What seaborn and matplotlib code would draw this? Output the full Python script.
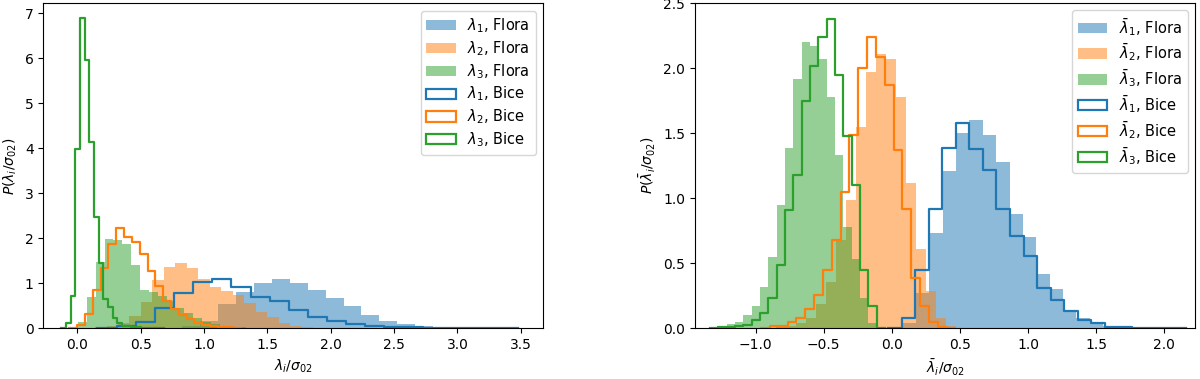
import numpy as np
import matplotlib
matplotlib.use("Agg")
import matplotlib.pyplot as plt
from matplotlib.patches import Patch
import seaborn as sns

# left panel: P(lambda_i / sigma_02), density per bin (first bin edge, bin width, heights)
flora_l1_start, flora_l1_width = 0.685, 0.1416
flora_l1 = [0.01, 0.05, 0.17, 0.53, 0.81, 1.00, 1.10, 1.00, 0.84, 0.67,
            0.50, 0.29, 0.16, 0.09, 0.05, 0.03, 0.02, 0.01, 0.005, 0.005]
flora_l2_start, flora_l2_width = 0.05, 0.0905
flora_l2 = [0.01, 0.03, 0.06, 0.12, 0.28, 0.59, 1.07, 1.37, 1.44, 1.33,
            1.09, 0.92, 0.83, 0.74, 0.56, 0.37, 0.24, 0.12, 0.06, 0.02]
flora_l3_start, flora_l3_width = 0.005, 0.07
flora_l3 = [0.15, 0.70, 1.47, 1.98, 1.97, 1.87, 1.40, 0.85, 0.80, 0.72,
            0.60, 0.46, 0.33, 0.22, 0.15, 0.09, 0.05, 0.03, 0.02, 0.01]
bice_l1_start, bice_l1_width = 0.31, 0.151
bice_l1 = [0.04, 0.15, 0.44, 0.79, 1.02, 1.10, 0.91, 0.69, 0.60, 0.40,
           0.24, 0.16, 0.09, 0.05, 0.035, 0.02, 0.015, 0.01, 0.01, 0.01]
bice_l2_start, bice_l2_width = 0.0, 0.0616
bice_l2 = [0.08, 0.31, 0.85, 1.35, 1.88, 2.23, 2.03, 1.91, 1.65, 1.28,
           0.93, 0.61, 0.43, 0.30, 0.20, 0.12, 0.08, 0.05, 0.03, 0.02]
bice_l3_start, bice_l3_width = -0.089, 0.0368
bice_l3 = [0.11, 0.72, 3.98, 6.89, 5.95, 4.13, 2.48, 1.44, 0.65, 0.48,
           0.22, 0.11, 0.06, 0.04, 0.03, 0.02, 0.01, 0.01, 0.01, 0.005]

# right panel: P(lambda_bar_i / sigma_02)
flora_b1_start, flora_b1_width = 0.08, 0.098
flora_b1 = [0.04, 0.27, 0.73, 1.21, 1.50, 1.60, 1.49, 1.28, 0.88, 0.70,
            0.42, 0.30, 0.14, 0.08, 0.04, 0.02, 0.01, 0.01, 0.005, 0.005]
flora_b2_start, flora_b2_width = -0.923, 0.0734
flora_b2 = [0.005, 0.01, 0.02, 0.04, 0.08, 0.19, 0.36, 0.68, 0.99, 1.55,
            1.97, 2.11, 2.07, 1.78, 1.12, 0.61, 0.29, 0.077, 0.02, 0.005]
flora_b3_start, flora_b3_width = -1.273, 0.0612
flora_b3 = [0.01, 0.03, 0.05, 0.10, 0.17, 0.32, 0.55, 0.95, 1.39, 1.92,
            2.20, 2.17, 2.07, 1.78, 1.33, 0.78, 0.53, 0.23, 0.04]
bice_b1_start, bice_b1_width = 0.073, 0.0993
bice_b1 = [0.077, 0.45, 0.92, 1.39, 1.58, 1.38, 1.22, 0.92, 0.71, 0.56,
           0.31, 0.22, 0.13, 0.064, 0.038, 0.013, 0.01, 0.005, 0.005, 0.005]
bice_b2_start, bice_b2_width = -0.894, 0.0648
bice_b2 = [0.02, 0.02, 0.05, 0.08, 0.15, 0.26, 0.45, 0.68, 1.05, 1.49,
           2.00, 2.24, 2.09, 1.87, 1.37, 0.92, 0.39, 0.17, 0.05, 0.013]
bice_b3_start, bice_b3_width = -1.273, 0.0612
bice_b3 = [0.01, 0.01, 0.015, 0.025, 0.064, 0.115, 0.23, 0.49, 0.91, 1.18,
           1.75, 2.02, 2.24, 2.38, 1.95, 1.48, 1.10, 0.45, 0.17]

colors = ["tab:blue", "tab:orange", "tab:green"]


def draw_hist(ax, start, width, heights, color, step=False):
    h = np.asarray(heights, dtype=float)
    edges = start + width * np.arange(len(h) + 1)
    if step:
        # empty bins on both sides so the outline drops to zero
        edges = np.concatenate([[edges[0] - width], edges, [edges[-1] + width]])
        h = np.concatenate([[0.0], h, [0.0]])
    centers = (edges[:-1] + edges[1:]) / 2
    if step:
        sns.histplot(x=centers, weights=h, bins=list(edges), element="step", fill=False,
                     color=color, linewidth=1.6, ax=ax)
    else:
        sns.histplot(x=centers, weights=h, bins=list(edges), element="bars", color=color,
                     alpha=0.5, linewidth=0, edgecolor="none", ax=ax)


fig = plt.figure(figsize=(12, 3.79), dpi=100)
ax1 = fig.add_axes([43.3 / 1200, 1 - 328.3 / 379, 499.7 / 1200, 325.0 / 379])
ax2 = fig.add_axes([695 / 1200, 1 - 328.3 / 379, 500 / 1200, 325.6 / 379])

for s, w, h, c in zip([flora_l1_start, flora_l2_start, flora_l3_start],
                      [flora_l1_width, flora_l2_width, flora_l3_width],
                      [flora_l1, flora_l2, flora_l3], colors):
    draw_hist(ax1, s, w, h, c)
for s, w, h, c in zip([bice_l1_start, bice_l2_start, bice_l3_start],
                      [bice_l1_width, bice_l2_width, bice_l3_width],
                      [bice_l1, bice_l2, bice_l3], colors):
    draw_hist(ax1, s, w, h, c, step=True)

for s, w, h, c in zip([flora_b1_start, flora_b2_start, flora_b3_start],
                      [flora_b1_width, flora_b2_width, flora_b3_width],
                      [flora_b1, flora_b2, flora_b3], colors):
    draw_hist(ax2, s, w, h, c)
for s, w, h, c in zip([bice_b1_start, bice_b2_start, bice_b3_start],
                      [bice_b1_width, bice_b2_width, bice_b3_width],
                      [bice_b1, bice_b2, bice_b3], colors):
    draw_hist(ax2, s, w, h, c, step=True)

ax1.set_xlim(-0.268, 3.675)
ax1.set_ylim(0, 7.22)
ax2.set_xlim(-1.444, 2.225)
ax2.set_ylim(0, 2.505)

ax1.set_xlabel(r"$\lambda_i/\sigma_{02}$")
ax1.set_ylabel(r"$P(\lambda_i/\sigma_{02})$")
ax2.set_xlabel(r"$\bar{\lambda}_i/\sigma_{02}$")
ax2.set_ylabel(r"$P(\bar{\lambda}_i/\sigma_{02})$")

for ax, sym in [(ax1, r"\lambda"), (ax2, r"\bar{\lambda}")]:
    handles = [Patch(facecolor=c, alpha=0.5, edgecolor="none") for c in colors]
    handles += [Patch(facecolor="none", edgecolor=c, linewidth=1.6) for c in colors]
    labels = [rf"${sym}_{i}$, Flora" for i in (1, 2, 3)]
    labels += [rf"${sym}_{i}$, Bice" for i in (1, 2, 3)]
    ax.legend(handles, labels, loc="upper right", fontsize=10.5, labelspacing=0.28)

fig.savefig("out.png", dpi=100)
